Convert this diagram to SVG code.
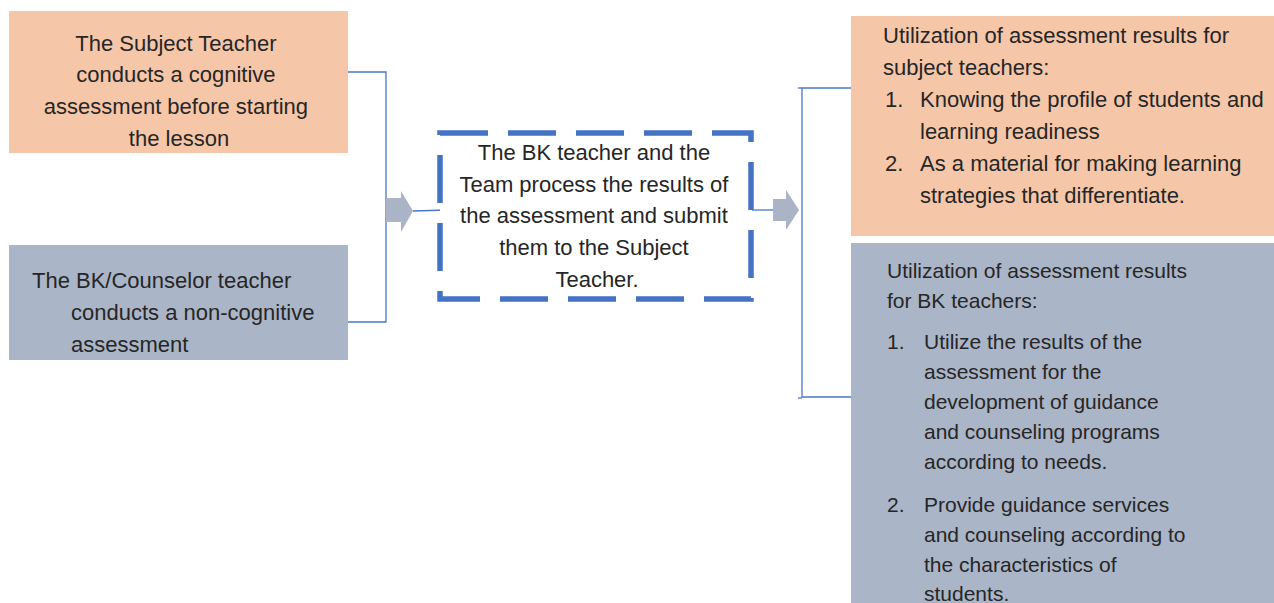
<svg xmlns="http://www.w3.org/2000/svg" width="1274" height="603" viewBox="0 0 1274 603">
  <style>
    .peach { fill: #f6c6a9; }
    .slate { fill: #aab5c7; }
    .txt { font-family: "Liberation Sans", Arial, sans-serif; fill: #262626; }
    .t22 { font-size: 22px; }
    .t21 { font-size: 21px; }
    .mid { text-anchor: middle; }
    .wire { fill: none; stroke: #4a74c6; stroke-width: 1.3; }
    .block { fill: #aab4c6; }
    .dash { fill: #ffffff; stroke: #4472c4; stroke-width: 5.5; stroke-dasharray: 48 20; }
  </style>
  <rect width="1274" height="603" fill="#ffffff"/>

  <!-- Connectors -->
  <g id="connectors">
    <!-- left bracket joining the two assessment boxes -->
    <polyline class="wire" points="348,72 386,72 386,322 348,322"/>
    <!-- left block arrow -->
    <polygon class="block" points="386,198 401,198 401,191 413,211 401,232 401,222 386,222"/>
    <line class="wire" x1="413" y1="211" x2="448" y2="210"/>
    <!-- right block arrow -->
    <line class="wire" x1="752" y1="210" x2="773" y2="210"/>
    <polygon class="block" points="773,199 786,199 786,190 799,210 786,230 786,221 773,221"/>
    <!-- right bracket leading to the two utilization boxes -->
    <polyline class="wire" points="852,88 802,88 802,397 852,397"/>
    <line class="wire" x1="798" y1="88" x2="802" y2="88"/>
    <line class="wire" x1="798" y1="398" x2="802" y2="398"/>
  </g>

  <!-- Subject teacher cognitive assessment -->
  <g id="node-subject-teacher">
    <rect class="peach" x="9" y="11" width="339" height="142"/>
    <text class="txt t22 mid" x="179">
      <tspan x="179" y="51">The Subject Teacher</tspan>
      <tspan x="179" y="82">conducts a cognitive</tspan>
      <tspan x="179" y="114">assessment before starting</tspan>
      <tspan x="179" y="146">the lesson</tspan>
    </text>
  </g>

  <!-- BK / counselor non-cognitive assessment -->
  <g id="node-bk-counselor">
    <rect class="slate" x="9" y="245" width="339" height="115"/>
    <text class="txt t22">
      <tspan x="32" y="288">The BK/Counselor teacher</tspan>
      <tspan x="71" y="320">conducts a non-cognitive</tspan>
      <tspan x="71" y="352">assessment</tspan>
    </text>
  </g>

  <!-- Processing of results -->
  <g id="node-process">
    <rect class="dash" x="440" y="133" width="311" height="166"/>
    <text class="txt t22 mid">
      <tspan x="597" y="160">The BK teacher and the</tspan>
      <tspan x="597" y="192">Team process the results of</tspan>
      <tspan x="597" y="223">the assessment and submit</tspan>
      <tspan x="597" y="255">them to the Subject</tspan>
      <tspan x="597" y="287">Teacher.</tspan>
    </text>
  </g>

  <!-- Utilization for subject teachers -->
  <g id="node-use-subject">
    <rect class="peach" x="851" y="16" width="423" height="220"/>
    <text class="txt t22">
      <tspan x="883" y="43">Utilization of assessment results for</tspan>
      <tspan x="883" y="75">subject teachers:</tspan>
      <tspan x="885" y="107">1.</tspan>
      <tspan x="920" y="107">Knowing the profile of students and</tspan>
      <tspan x="920" y="139">learning readiness</tspan>
      <tspan x="885" y="171">2.</tspan>
      <tspan x="920" y="171">As a material for making learning</tspan>
      <tspan x="920" y="203">strategies that differentiate.</tspan>
    </text>
  </g>

  <!-- Utilization for BK teachers -->
  <g id="node-use-bk">
    <rect class="slate" x="851" y="243" width="423" height="360"/>
    <text class="txt t21">
      <tspan x="887" y="278">Utilization of assessment results</tspan>
      <tspan x="887" y="308">for BK teachers:</tspan>
      <tspan x="887" y="349">1.</tspan>
      <tspan x="924" y="349">Utilize the results of the</tspan>
      <tspan x="924" y="379">assessment for the</tspan>
      <tspan x="924" y="409">development of guidance</tspan>
      <tspan x="924" y="439">and counseling programs</tspan>
      <tspan x="924" y="469">according to needs.</tspan>
      <tspan x="887" y="512">2.</tspan>
      <tspan x="924" y="512">Provide guidance services</tspan>
      <tspan x="924" y="542">and counseling according to</tspan>
      <tspan x="924" y="572">the characteristics of</tspan>
      <tspan x="924" y="601">students.</tspan>
    </text>
  </g>
</svg>
